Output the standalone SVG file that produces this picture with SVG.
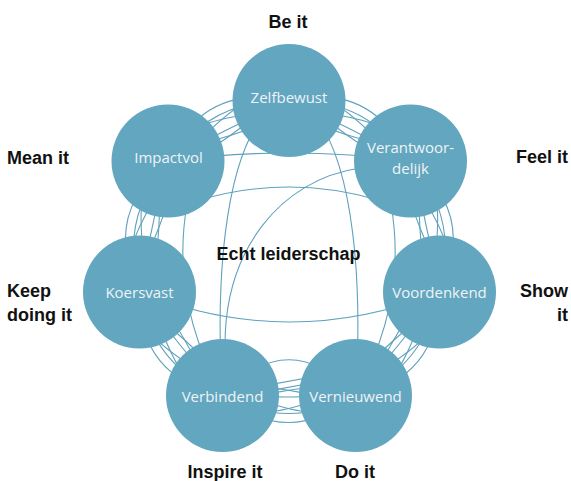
<svg xmlns="http://www.w3.org/2000/svg" xmlns:xlink="http://www.w3.org/1999/xlink" width="571" height="481" viewBox="0 0 571 481">
<style>
.bg{fill:#ffffff}
.ln{fill:none;stroke:#5fa2bc;stroke-width:1.1}
.nd{fill:#63a6bf}
.nl{font-family:"Open Sans","DejaVu Sans",sans-serif;font-size:15px;fill:#eef4f7;text-anchor:middle}
.ol{font-family:"Liberation Sans",Arial,sans-serif;font-weight:bold;font-size:18px;fill:#111111}
</style>
<defs>
<g id="bundle" class="ln">
<path d="M0,0 C44.7,-40 89.3,5 134,0"/>
<path d="M0,0 C44.7,5 89.3,-40 134,0"/>
<path d="M0,0 C44.7,-24 89.3,-24 134,0"/>
<path d="M0,0 C44.7,22 89.3,-8 134,0"/>
<path d="M0,0 C44.7,-8 89.3,22 134,0"/>
<path d="M0,0 C44.7,-2 89.3,-2 134,0"/>
<path d="M0,0 C44.7,-36 89.3,-36 134,0"/>
</g>
</defs>
<rect class="bg" x="0" y="0" width="571" height="481"/>
<g id="connectors" class="ln">
<use xlink:href="#bundle" href="#bundle" transform="translate(289,100) rotate(26.66)"/>
<use xlink:href="#bundle" href="#bundle" transform="translate(410.5,161) rotate(77.52)"/>
<use xlink:href="#bundle" href="#bundle" transform="translate(439.5,292) rotate(129.06)"/>
<use xlink:href="#bundle" href="#bundle" transform="translate(355.5,395.5) rotate(180)"/>
<use xlink:href="#bundle" href="#bundle" transform="translate(222.5,395.5) rotate(-128.73)"/>
<use xlink:href="#bundle" href="#bundle" transform="translate(139.5,292) rotate(-77.73)"/>
<use xlink:href="#bundle" href="#bundle" transform="translate(168,161) rotate(-26.75)"/>
<path d="M168,161 Q289,145 410.5,161"/>
<path d="M200,200 Q289,174 378,200"/>
<path d="M139.5,292 Q290,352 439.5,292"/>
<path d="M260,120 C225,170 215,280 222.5,395.5"/>
<path d="M318,120 C353,170 363,280 355.5,395.5"/>
<path d="M360,168 C280,180 225,250 225,345"/>
<path d="M187,205 Q170,300 222.5,395.5"/>
<path d="M391,205 Q408,300 355.5,395.5"/>
<path d="M222.5,395.5 Q289,324 355.5,395.5"/>
<path d="M230,392 L350,370"/>
<path d="M230,398 L350,376"/>
</g>
<g id="zelfbewust"><circle class="nd" cx="289" cy="100.5" r="56.5"/><text class="nl" x="289" y="103">Zelfbewust</text></g>
<g id="verantwoordelijk"><circle class="nd" cx="410.5" cy="161" r="56.5"/><text class="nl" x="410.5" y="153">Verantwoor-</text><text class="nl" x="410.5" y="174">delijk</text></g>
<g id="voordenkend"><circle class="nd" cx="439.5" cy="292" r="56.5"/><text class="nl" x="439.5" y="298">Voordenkend</text></g>
<g id="vernieuwend"><circle class="nd" cx="355.5" cy="395.5" r="56.5"/><text class="nl" x="355.5" y="402">Vernieuwend</text></g>
<g id="verbindend"><circle class="nd" cx="222.5" cy="395.5" r="56.5"/><text class="nl" x="222.5" y="402">Verbindend</text></g>
<g id="koersvast"><circle class="nd" cx="139.5" cy="292" r="56.5"/><text class="nl" x="139.5" y="298">Koersvast</text></g>
<g id="impactvol"><circle class="nd" cx="168" cy="161" r="56.5"/><text class="nl" x="168.5" y="163">Impactvol</text></g>
<g id="labels">
<text class="ol" x="288" y="28" text-anchor="middle">Be it</text>
<text class="ol" x="7" y="164">Mean it</text>
<text class="ol" x="568" y="163" text-anchor="end">Feel it</text>
<text class="ol" x="7" y="297">Keep</text>
<text class="ol" x="7" y="321">doing it</text>
<text class="ol" x="568" y="297" text-anchor="end">Show</text>
<text class="ol" x="568" y="321" text-anchor="end">it</text>
<text class="ol" x="225" y="478" text-anchor="middle">Inspire it</text>
<text class="ol" x="355" y="478" text-anchor="middle">Do it</text>
<text class="ol" x="288.5" y="260" text-anchor="middle">Echt leiderschap</text>
</g>
</svg>
